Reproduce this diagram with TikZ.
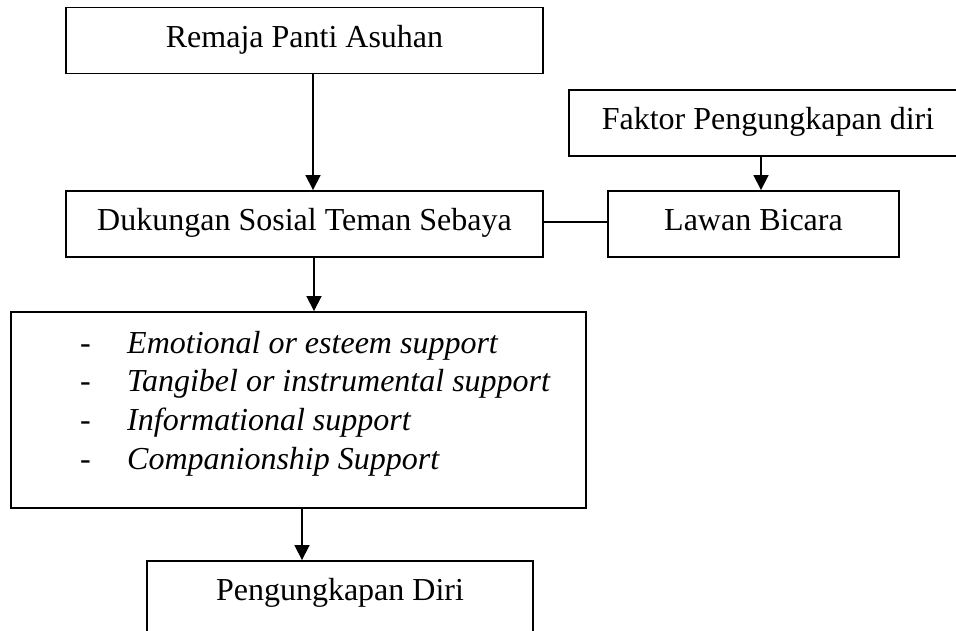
\documentclass[tikz,border=0pt]{standalone}
\usepackage{fontspec}
\setmainfont{Liberation Serif}
\usetikzlibrary{arrows.meta}
\tikzset{
  boxnode/.style={draw, line width=1.9pt, rectangle, inner sep=0pt,
    font=\fontsize{32}{38.7}\selectfont, text height=20pt, text depth=6pt},
  arr/.style={line width=1.8pt, -{Triangle[length=15pt,width=15pt]}},
  link/.style={line width=1.1pt}
}
\begin{document}
\begin{tikzpicture}[x=1pt,y=-1pt]
\useasboundingbox (0,0) rectangle (956,631);
\clip (0,0) rectangle (956,631);
\node[boxnode, minimum width=477pt, minimum height=66pt] (rem) at (304.5,40.5) {Remaja Panti Asuhan};
\node[boxnode, minimum width=477pt, minimum height=66pt] (duk) at (304.5,224) {Dukungan Sosial Teman Sebaya};
\node[boxnode, minimum width=398pt, minimum height=66pt] (fak) at (768,123) {Faktor Pengungkapan diri};
\node[boxnode, minimum width=291pt, minimum height=66pt] (law) at (753.5,224) {Lawan Bicara};
\node[boxnode, minimum width=575pt, minimum height=196pt] (sup) at (298.5,410) {};
\node[anchor=base west, inner sep=0pt, font=\fontsize{32}{38.7}\selectfont] (list) at (80,353)
  {\begin{tabular}[t]{@{}l@{}}
   \makebox[47pt][l]{-}\textit{Emotional or esteem support}\\
   \makebox[47pt][l]{-}\textit{Tangibel or instrumental support}\\
   \makebox[47pt][l]{-}\textit{Informational support}\\
   \makebox[47pt][l]{-}\textit{Companionship Support}
   \end{tabular}};
\node[boxnode, minimum width=386pt, minimum height=84pt, text height=20pt, text depth=26pt] (pen) at (340,603) {Pengungkapan Diri};
\draw[arr] ([xshift=8.5pt]rem.south) -- ([xshift=8.5pt]duk.north);
\draw[arr] ([xshift=-7pt]fak.south) -- ([xshift=7.5pt]law.north);
\draw[link] ([yshift=2pt]duk.east) -- ([yshift=2pt]law.west);
\draw[arr] ([xshift=9.5pt]duk.south) -- ([xshift=15.5pt]sup.north);
\draw[arr] ([xshift=3.5pt]sup.south) -- ([xshift=-38pt]pen.north);
\end{tikzpicture}
\end{document}
